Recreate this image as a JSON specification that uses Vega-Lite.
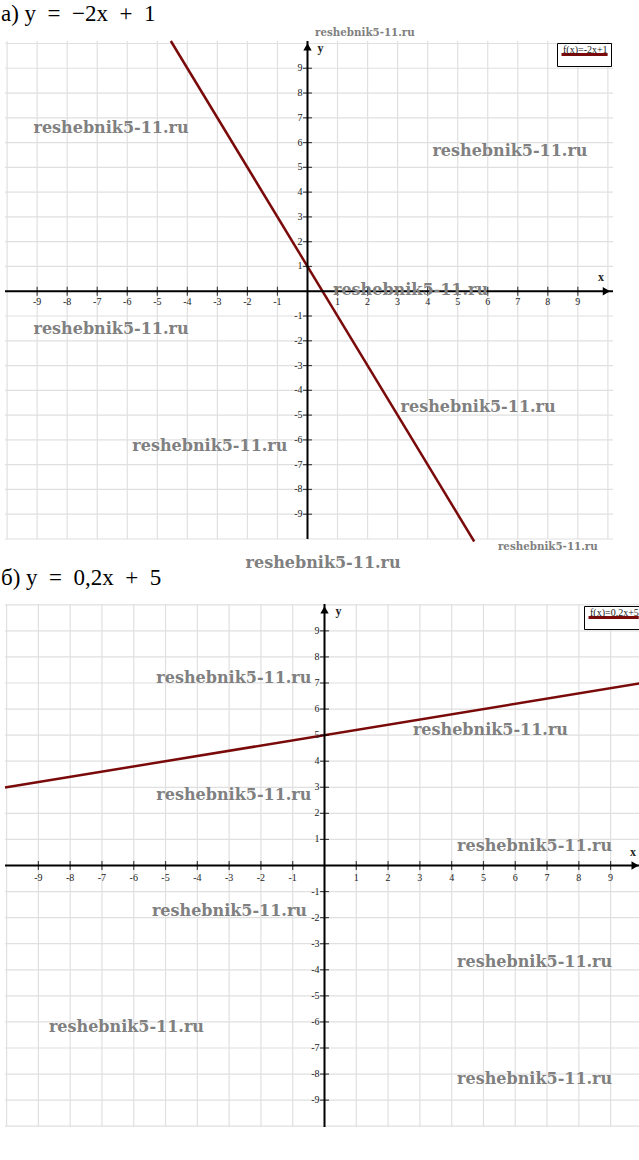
{
  "$schema": "https://vega.github.io/schema/vega-lite/v6.json",
  "padding": {"left": 0, "top": 3, "right": 0, "bottom": 0},
  "background": "white",
  "bounds": "flush",
  "spacing": 65,
  "resolve": {"scale": {"color": "independent"}, "legend": {"color": "independent"}},
  "config": {
    "view": {"stroke": null},
    "legend": {"title": null, "orient": "top-right", "offset": 2, "symbolType": "stroke", "symbolSize": 2700, "symbolStrokeWidth": 3, "labelOffset": -52, "labelBaseline": "bottom", "labelFontSize": 10, "labelFont": "Liberation Serif", "labelColor": "#1a1a1a", "strokeColor": "black", "fillColor": "white", "padding": 3, "cornerRadius": 0, "clipHeight": 17}
  },
  "datasets": {
    "grid": [{"v": -10}, {"v": -9}, {"v": -8}, {"v": -7}, {"v": -6}, {"v": -5}, {"v": -4}, {"v": -3}, {"v": -2}, {"v": -1}, {"v": 0}, {"v": 1}, {"v": 2}, {"v": 3}, {"v": 4}, {"v": 5}, {"v": 6}, {"v": 7}, {"v": 8}, {"v": 9}, {"v": 10}],
    "ticks": [{"v": -9}, {"v": -8}, {"v": -7}, {"v": -6}, {"v": -5}, {"v": -4}, {"v": -3}, {"v": -2}, {"v": -1}, {"v": 1}, {"v": 2}, {"v": 3}, {"v": 4}, {"v": 5}, {"v": 6}, {"v": 7}, {"v": 8}, {"v": 9}],
    "zero": [{"v": 0}],
    "line1": [{"x": -4.55, "y": 10.1, "f": "f(x)=-2x+1"}, {"x": 5.55, "y": -10.1, "f": "f(x)=-2x+1"}],
    "line2": [{"x": -10.05, "y": 2.99, "f": "f(x)=0.2x+5"}, {"x": 10.05, "y": 7.01, "f": "f(x)=0.2x+5"}],
    "wm1big": [{"x": -6.54, "y": 6.58}, {"x": 6.74, "y": 5.65}, {"x": 3.43, "y": 0.05}, {"x": -6.54, "y": -1.53}, {"x": 5.68, "y": -4.68}, {"x": -3.25, "y": -6.25}, {"x": 0.52, "y": -10.98}],
    "wm1small": [{"x": 1.91, "y": 10.41}, {"x": 8.0, "y": -10.33}],
    "wm2big": [{"x": -2.85, "y": 7.19}, {"x": 5.22, "y": 5.2}, {"x": -2.85, "y": 2.7}, {"x": 6.61, "y": 0.75}, {"x": -2.99, "y": -1.74}, {"x": 6.61, "y": -3.7}, {"x": -6.23, "y": -6.19}, {"x": 6.61, "y": -8.19}]
  },
  "vconcat": [
    {
      "width": 608,
      "height": 498,
      "title": {"text": "а) y\u2002=\u2002−2x\u2002+\u20021", "anchor": "start", "frame": "group", "fontSize": 23, "font": "Liberation Serif", "fontWeight": "normal", "color": "black", "offset": 2, "dx": -4},
      "layer": [
        {"data": {"name": "grid"}, "mark": {"type": "rule", "color": "#e0e0e0", "strokeWidth": 1.2}, "encoding": {"x": {"field": "v", "type": "quantitative", "scale": {"domain": [-10.07, 10.17], "nice": false, "zero": false}, "axis": null}}},
        {"data": {"name": "grid"}, "mark": {"type": "rule", "color": "#e0e0e0", "strokeWidth": 1.2}, "encoding": {"y": {"field": "v", "type": "quantitative", "scale": {"domain": [-10.0, 10.1], "nice": false, "zero": false}, "axis": null}}},
        {
          "data": {"name": "line1"},
          "mark": {"type": "line", "strokeWidth": 2.5},
          "encoding": {
            "x": {"field": "x", "type": "quantitative", "axis": null},
            "y": {"field": "y", "type": "quantitative", "axis": null},
            "color": {"field": "f", "type": "nominal", "scale": {"range": ["#7a0a0a"]}}
          }
        },
        {"data": {"name": "zero"}, "mark": {"type": "rule", "color": "black", "strokeWidth": 2}, "encoding": {"x": {"field": "v", "type": "quantitative", "axis": null}}},
        {"data": {"name": "zero"}, "mark": {"type": "rule", "color": "black", "strokeWidth": 2}, "encoding": {"y": {"field": "v", "type": "quantitative", "axis": null}}},
        {"data": {"name": "ticks"}, "mark": {"type": "tick", "orient": "vertical", "size": 9, "thickness": 1.2, "color": "black"}, "encoding": {"x": {"field": "v", "type": "quantitative", "axis": null}, "y": {"datum": 0, "type": "quantitative", "axis": null}}},
        {"data": {"name": "ticks"}, "mark": {"type": "tick", "orient": "horizontal", "size": 9, "thickness": 1.2, "color": "black"}, "encoding": {"y": {"field": "v", "type": "quantitative", "axis": null}, "x": {"datum": 0, "type": "quantitative", "axis": null}}},
        {"data": {"name": "ticks"}, "mark": {"type": "text", "baseline": "middle", "align": "center", "dy": 11, "font": "Liberation Serif", "fontSize": 10, "color": "#222"}, "encoding": {"x": {"field": "v", "type": "quantitative", "axis": null}, "y": {"datum": 0, "type": "quantitative", "axis": null}, "text": {"field": "v", "type": "nominal"}}},
        {"data": {"name": "ticks"}, "mark": {"type": "text", "baseline": "middle", "align": "right", "dx": -5, "font": "Liberation Serif", "fontSize": 10, "color": "#222"}, "encoding": {"y": {"field": "v", "type": "quantitative", "axis": null}, "x": {"datum": 0, "type": "quantitative", "axis": null}, "text": {"field": "v", "type": "nominal"}}},
        {"data": {"name": "zero"}, "mark": {"type": "point", "shape": "triangle-up", "filled": true, "color": "black", "size": 70, "opacity": 1}, "encoding": {"x": {"field": "v", "type": "quantitative", "axis": null}, "y": {"datum": 9.86, "type": "quantitative", "axis": null}}},
        {"data": {"name": "zero"}, "mark": {"type": "point", "shape": "triangle-right", "filled": true, "color": "black", "size": 70, "opacity": 1}, "encoding": {"y": {"field": "v", "type": "quantitative", "axis": null}, "x": {"datum": 9.95, "type": "quantitative", "axis": null}}},
        {"data": {"name": "zero"}, "mark": {"type": "text", "text": "y", "align": "center", "baseline": "middle", "dx": 13, "font": "Liberation Serif", "fontWeight": "bold", "fontSize": 12, "color": "#222"}, "encoding": {"x": {"field": "v", "type": "quantitative", "axis": null}, "y": {"datum": 9.8, "type": "quantitative", "axis": null}}},
        {"data": {"name": "zero"}, "mark": {"type": "text", "text": "x", "align": "center", "baseline": "middle", "dy": -14, "dx": -3, "font": "Liberation Serif", "fontWeight": "bold", "fontSize": 12, "color": "#222"}, "encoding": {"y": {"field": "v", "type": "quantitative", "axis": null}, "x": {"datum": 9.87, "type": "quantitative", "axis": null}}},
        {"data": {"name": "wm1big"}, "mark": {"type": "text", "text": "reshebnik5-11.ru", "align": "center", "baseline": "middle", "font": "DejaVu Serif", "fontWeight": "bold", "fontSize": 16, "color": "#808080"}, "encoding": {"x": {"field": "x", "type": "quantitative", "axis": null}, "y": {"field": "y", "type": "quantitative", "axis": null}}},
        {"data": {"name": "wm1small"}, "mark": {"type": "text", "text": "reshebnik5-11.ru", "align": "center", "baseline": "middle", "font": "DejaVu Serif", "fontWeight": "bold", "fontSize": 10.3, "color": "#808080"}, "encoding": {"x": {"field": "x", "type": "quantitative", "axis": null}, "y": {"field": "y", "type": "quantitative", "axis": null}}}
      ]
    },
    {
      "width": 639,
      "height": 523,
      "title": {"text": "б) y\u2002=\u20020,2x\u2002+\u20025", "anchor": "start", "frame": "group", "fontSize": 23, "font": "Liberation Serif", "fontWeight": "normal", "color": "black", "offset": 13, "dx": -4},
      "layer": [
        {"data": {"name": "grid"}, "mark": {"type": "rule", "color": "#e0e0e0", "strokeWidth": 1.2}, "encoding": {"x": {"field": "v", "type": "quantitative", "scale": {"domain": [-10.05, 10.05], "nice": false, "zero": false}, "axis": null}}},
        {"data": {"name": "grid"}, "mark": {"type": "rule", "color": "#e0e0e0", "strokeWidth": 1.2}, "encoding": {"y": {"field": "v", "type": "quantitative", "scale": {"domain": [-10.03, 10.03], "nice": false, "zero": false}, "axis": null}}},
        {
          "data": {"name": "line2"},
          "mark": {"type": "line", "strokeWidth": 2.5},
          "encoding": {
            "x": {"field": "x", "type": "quantitative", "axis": null},
            "y": {"field": "y", "type": "quantitative", "axis": null},
            "color": {"field": "f", "type": "nominal", "scale": {"range": ["#7a0a0a"]}}
          }
        },
        {"data": {"name": "zero"}, "mark": {"type": "rule", "color": "black", "strokeWidth": 2}, "encoding": {"x": {"field": "v", "type": "quantitative", "axis": null}}},
        {"data": {"name": "zero"}, "mark": {"type": "rule", "color": "black", "strokeWidth": 2}, "encoding": {"y": {"field": "v", "type": "quantitative", "axis": null}}},
        {"data": {"name": "ticks"}, "mark": {"type": "tick", "orient": "vertical", "size": 9, "thickness": 1.2, "color": "black"}, "encoding": {"x": {"field": "v", "type": "quantitative", "axis": null}, "y": {"datum": 0, "type": "quantitative", "axis": null}}},
        {"data": {"name": "ticks"}, "mark": {"type": "tick", "orient": "horizontal", "size": 9, "thickness": 1.2, "color": "black"}, "encoding": {"y": {"field": "v", "type": "quantitative", "axis": null}, "x": {"datum": 0, "type": "quantitative", "axis": null}}},
        {"data": {"name": "ticks"}, "mark": {"type": "text", "baseline": "middle", "align": "center", "dy": 12, "font": "Liberation Serif", "fontSize": 10, "color": "#222"}, "encoding": {"x": {"field": "v", "type": "quantitative", "axis": null}, "y": {"datum": 0, "type": "quantitative", "axis": null}, "text": {"field": "v", "type": "nominal"}}},
        {"data": {"name": "ticks"}, "mark": {"type": "text", "baseline": "middle", "align": "right", "dx": -5, "font": "Liberation Serif", "fontSize": 10, "color": "#222"}, "encoding": {"y": {"field": "v", "type": "quantitative", "axis": null}, "x": {"datum": 0, "type": "quantitative", "axis": null}, "text": {"field": "v", "type": "nominal"}}},
        {"data": {"name": "zero"}, "mark": {"type": "point", "shape": "triangle-up", "filled": true, "color": "black", "size": 70, "opacity": 1}, "encoding": {"x": {"field": "v", "type": "quantitative", "axis": null}, "y": {"datum": 9.8, "type": "quantitative", "axis": null}}},
        {"data": {"name": "zero"}, "mark": {"type": "point", "shape": "triangle-right", "filled": true, "color": "black", "size": 70, "opacity": 1}, "encoding": {"y": {"field": "v", "type": "quantitative", "axis": null}, "x": {"datum": 9.77, "type": "quantitative", "axis": null}}},
        {"data": {"name": "zero"}, "mark": {"type": "text", "text": "y", "align": "center", "baseline": "middle", "dx": 14, "font": "Liberation Serif", "fontWeight": "bold", "fontSize": 12, "color": "#222"}, "encoding": {"x": {"field": "v", "type": "quantitative", "axis": null}, "y": {"datum": 9.77, "type": "quantitative", "axis": null}}},
        {"data": {"name": "zero"}, "mark": {"type": "text", "text": "x", "align": "center", "baseline": "middle", "dy": -14, "dx": -3, "font": "Liberation Serif", "fontWeight": "bold", "fontSize": 12, "color": "#222"}, "encoding": {"y": {"field": "v", "type": "quantitative", "axis": null}, "x": {"datum": 9.8, "type": "quantitative", "axis": null}}},
        {"data": {"name": "wm2big"}, "mark": {"type": "text", "text": "reshebnik5-11.ru", "align": "center", "baseline": "middle", "font": "DejaVu Serif", "fontWeight": "bold", "fontSize": 16, "color": "#808080"}, "encoding": {"x": {"field": "x", "type": "quantitative", "axis": null}, "y": {"field": "y", "type": "quantitative", "axis": null}}}
      ]
    }
  ]
}
